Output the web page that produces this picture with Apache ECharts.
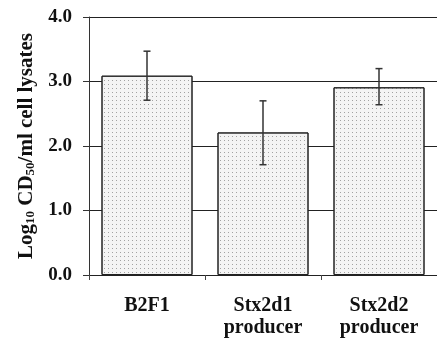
<!DOCTYPE html>
<html><head><meta charset="utf-8">
<script src="https://cdn.jsdelivr.net/npm/echarts@6/dist/echarts.min.js"></script>
<style>html,body{margin:0;padding:0;background:#fff}#c{width:437px;height:343px}</style>
</head><body><div id="c"></div>
<script>
const categories = ['B2F1', 'Stx2d1\nproducer', 'Stx2d2\nproducer'];
const means = [3.09, 2.21, 2.91];
const errLow = [2.71, 1.71, 2.64];
const errHigh = [3.47, 2.70, 3.20];
const yTicks = [0, 1, 2, 3, 4];

const font = 'Liberation Serif';
const chart = echarts.init(document.getElementById('c'), null, {renderer: 'canvas'});
chart.setOption({
  animation: false,
  grid: {left: 89, top: 17, width: 357, height: 258},
  xAxis: {
    type: 'category', data: categories,
    axisLine: {lineStyle: {color: '#222', width: 1}},
    axisTick: {show: true, length: 5, lineStyle: {color: '#444'}},
    axisLabel: {fontFamily: font, fontWeight: 'bold', fontSize: 20, color: '#111', margin: 20, lineHeight: 22}
  },
  yAxis: {
    type: 'value', min: 0, max: 4, interval: 1,
    axisLine: {show: true, lineStyle: {color: '#333', width: 1}},
    axisTick: {show: true, length: 6, lineStyle: {color: '#333'}},
    splitLine: {show: true, lineStyle: {color: '#222', width: 1}},
    axisLabel: {fontFamily: font, fontWeight: 'bold', fontSize: 19, color: '#111', margin: 17,
      formatter: v => yTicks.includes(v) ? v.toFixed(1) : ''},
    name: '{a|Log}{s|10}{a| CD}{s|50}{a|/ml cell lysates}',
    nameLocation: 'middle', nameGap: 50, nameRotate: 90,
    nameTextStyle: {rich: {
      a: {fontFamily: font, fontWeight: 'bold', fontSize: 21, color: '#111'},
      s: {fontFamily: font, fontWeight: 'bold', fontSize: 13, color: '#111', verticalAlign: 'bottom', padding: [8, 0, 0, 0]}
    }}
  },
  series: [
    {
      type: 'bar', data: means, barWidth: 91, z: 3,
      itemStyle: {
        color: '#f4f4f4', borderColor: '#222', borderWidth: 1,
        decal: {symbol: 'rect', symbolSize: 1, color: 'rgba(80,80,80,0.5)', dashArrayX: [1, 3], dashArrayY: [1, 3], rotation: 0}
      }
    },
    {
      type: 'custom', z: 5,
      data: categories.map((c, i) => [i, errLow[i], errHigh[i]]),
      renderItem: function (params, api) {
        const x = api.value(0);
        const lo = api.coord([x, api.value(1)]);
        const hi = api.coord([x, api.value(2)]);
        const w = 3.5;
        const st = {stroke: '#333', lineWidth: 1.5};
        return {type: 'group', children: [
          {type: 'line', shape: {x1: lo[0], y1: lo[1], x2: hi[0], y2: hi[1]}, style: st},
          {type: 'line', shape: {x1: lo[0] - w, y1: lo[1], x2: lo[0] + w, y2: lo[1]}, style: st},
          {type: 'line', shape: {x1: hi[0] - w, y1: hi[1], x2: hi[0] + w, y2: hi[1]}, style: st}
        ]};
      }
    }
  ]
});
</script></body></html>
